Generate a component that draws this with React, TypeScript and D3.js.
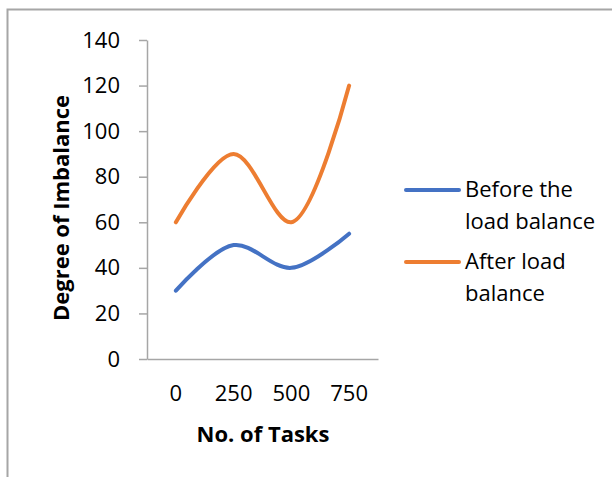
import React, { useEffect, useRef } from 'react';
import * as d3 from 'd3';

const categories = ['0', '250', '500', '750'];
const beforeValues = [30, 50, 40, 55];
const afterValues = [60, 90, 60, 120];
const yTicks = [0, 20, 40, 60, 80, 100, 120, 140];

const seriesNames = ['Before the|load balance', 'After load|balance'];
const seriesColors = ['#4472C4', '#ED7D31'];

const FONT = '"Open Sans", sans-serif';

export default function App() {
  const ref = useRef<SVGSVGElement>(null);

  useEffect(() => {
    if (!ref.current) return;
    const svg = d3.select(ref.current);
    svg.selectAll('*').remove();

    // outer frame (chart area border)
    svg.append('rect')
      .attr('x', 7.5).attr('y', 9.5)
      .attr('width', 700).attr('height', 600)
      .attr('fill', 'white')
      .attr('stroke', '#a6a6a6')
      .attr('stroke-width', 2);

    const x = d3.scaleBand().domain(categories).range([147, 378]);
    const y = d3.scaleLinear().domain([0, 140]).range([359, 40]);
    const cx = (c: string) => (x(c) as number) + x.bandwidth() / 2;

    // Y axis
    const yAxis = svg.append('g')
      .attr('transform', 'translate(147,0)')
      .call(d3.axisLeft(y).tickValues(yTicks).tickSizeInner(8).tickSizeOuter(0).tickPadding(19));
    yAxis.select('.domain').attr('stroke', '#a6a6a6').attr('stroke-width', 1.5);
    yAxis.selectAll('.tick line').attr('stroke', '#a6a6a6').attr('stroke-width', 1.5);
    yAxis.selectAll('.tick text')
      .attr('font-family', FONT).attr('font-size', 22).attr('fill', '#000');

    // X axis
    const xAxis = svg.append('g')
      .attr('transform', 'translate(0,359)')
      .call(d3.axisBottom(x).tickSize(0).tickPadding(26));
    xAxis.select('.domain').attr('stroke', '#a6a6a6').attr('stroke-width', 1.5);
    xAxis.selectAll('.tick text')
      .attr('font-family', FONT).attr('font-size', 22).attr('fill', '#000');

    // lines
    const line = d3.line<number>()
      .x((_, i) => cx(categories[i]))
      .y(d => y(d))
      .curve(d3.curveCatmullRom.alpha(0.5));

    [beforeValues, afterValues].forEach((vals, i) => {
      svg.append('path')
        .attr('d', line(vals))
        .attr('fill', 'none')
        .attr('stroke', seriesColors[i])
        .attr('stroke-width', 4)
        .attr('stroke-linecap', 'round');
    });

    // axis titles
    svg.append('text')
      .attr('x', 263).attr('y', 442)
      .attr('text-anchor', 'middle')
      .attr('font-family', FONT).attr('font-size', 22).attr('font-weight', 'bold')
      .text('No. of Tasks');

    svg.append('text')
      .attr('transform', 'translate(69,208) rotate(-90)')
      .attr('text-anchor', 'middle')
      .attr('font-family', FONT).attr('font-size', 22).attr('font-weight', 'bold')
      .text('Degree of Imbalance');

    // legend
    const legendY = [190, 262];
    seriesNames.forEach((name, i) => {
      const g = svg.append('g');
      g.append('line')
        .attr('x1', 406).attr('x2', 459)
        .attr('y1', legendY[i]).attr('y2', legendY[i])
        .attr('stroke', seriesColors[i]).attr('stroke-width', 4)
        .attr('stroke-linecap', 'round');
      const t = g.append('text')
        .attr('font-family', FONT).attr('font-size', 22);
      name.split('|').forEach((part, j) => {
        t.append('tspan')
          .attr('x', 465)
          .attr('y', legendY[i] + 7 + j * 32)
          .text(part);
      });
    });
  }, []);

  return (
    <svg
      ref={ref}
      width={612}
      height={477}
      style={{ position: 'absolute', left: 0, top: 0, background: 'white' }}
    />
  );
}
